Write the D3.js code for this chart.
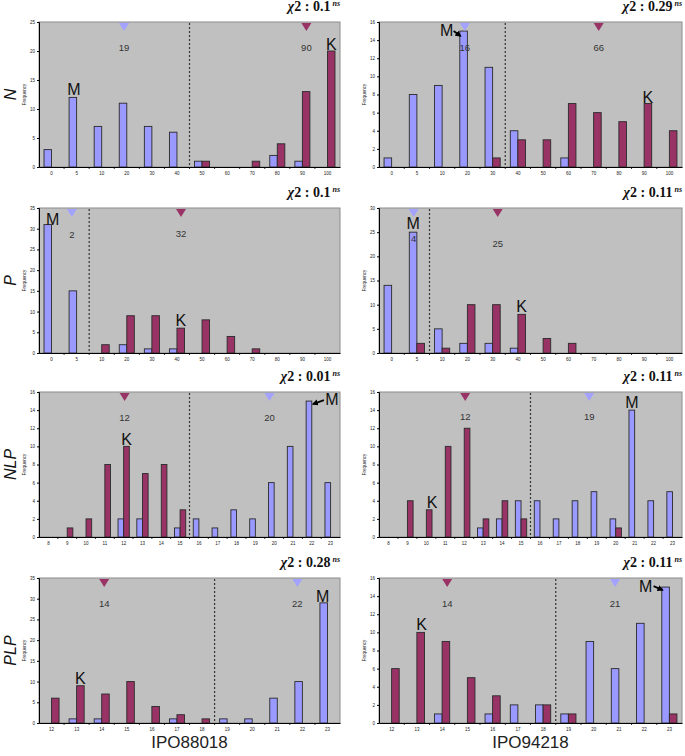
<!DOCTYPE html>
<html><head><meta charset="utf-8">
<script src="https://cdn.jsdelivr.net/npm/d3@7"></script>
<style>body{margin:0;background:#fff;} svg{display:block;}</style>
</head><body>
<script>
// ---------- DATA ----------
const catsN = ["0","5","10","20","30","40","50","60","70","80","90","100"];
const catsNLP = ["8","9","10","11","12","13","14","15","16","17","18","19","20","21","22","23"];
const catsPLP = ["12","13","14","15","16","17","18","19","20","21","22","23"];

const ticks25 = [0,5,10,15,20,25];
const ticks16 = [0,2,4,6,8,10,12,14,16];
const ticks35 = [0,5,10,15,20,25,30,35];
const ticks30 = [0,5,10,15,20,25,30];

// N
const n88Blue = [3,12,7,11,7,6,1,0,0,2,1,0];
const n88Red  = [0,0,0,0,0,0,1,0,1,4,13,20];
const n94Blue = [1,8,9,15,11,4,0,1,0,0,0,0];
const n94Red  = [0,0,0,0,1,3,3,7,6,5,7,4];
// P
const p88Blue = [31,15,0,2,1,1,0,0,0,0,0,0];
const p88Red  = [0,0,2,9,9,6,8,4,1,0,0,0];
const p94Blue = [14,25,5,2,2,1,0,0,0,0,0,0];
const p94Red  = [0,2,1,10,10,8,3,2,0,0,0,0];
// NLP
const nlp88Blue = [0,0,0,0,2,2,0,1,2,1,3,2,6,10,15,6];
const nlp88Red  = [0,1,2,8,10,7,8,3,0,0,0,0,0,0,0,0];
const nlp94Blue = [0,0,0,0,0,1,2,4,4,2,4,5,2,14,4,5];
const nlp94Red  = [0,4,3,10,12,2,4,2,0,0,0,0,1,0,0,0];
// PLP
const plp88Blue = [0,1,1,0,0,1,0,1,1,6,10,29];
const plp88Red  = [6,9,7,10,4,2,1,0,0,0,0,0];
const plp94Blue = [0,0,1,0,1,2,2,1,9,6,11,15];
const plp94Red  = [6,10,9,5,3,0,2,1,0,0,0,1];

const chiValues = ["0.1","0.29","0.1","0.11","0.01","0.11","0.28","0.11"];
const blueMeanLabels = ["19","16","2","4","20","19","22","21"];
const redMeanLabels  = ["90","66","32","25","12","12","14","14"];
// mean marker position, expressed as fractional category index
const blueMeanIdx = [2.89,2.9,0.81,0.87,11.75,10.6,9.8,8.85];
const redMeanIdx  = [10.16,8.2,5.16,4.2,4.05,4.05,2.1,2.2];
const rowNames = ["N","P","NLP","PLP"];
const colNames = ["IPO88018","IPO94218"];

// ---------- LAYOUT ----------
const W = 685, H = 756;
const colX = [[39,340],[379,682]];
const rowY = [[22,167],[208,353],[392,537],[578,723]];
const BLUE = "#9999ff", RED = "#993366";

// arrow: [startDxFromText, startDyFromText, endDxFromBarCenter, endDyFromBarTop]
const panels = [
  {r:0,c:0,cats:catsN,ticks:ticks25,blue:n88Blue,red:n88Red,split:6,
   lb:29,lr:29, ann:[{t:"M",cat:"5",s:"b",dx:1,dy:-2},{t:"K",cat:"100",s:"r",dx:0,dy:-1}]},
  {r:0,c:1,cats:catsN,ticks:ticks16,blue:n94Blue,red:n94Red,split:5,
   lb:29,lr:29, ann:[{t:"M",cat:"20",s:"b",dx:-17,dy:5,arrow:[7,-5,-3,5]},{t:"K",cat:"90",s:"r",dx:0,dy:-1}]},
  {r:1,c:0,cats:catsN,ticks:ticks35,blue:p88Blue,red:p88Red,split:2,
   lb:30,lr:29, ann:[{t:"M",cat:"0",s:"b",dx:5,dy:0},{t:"K",cat:"40",s:"r",dx:0,dy:-2}]},
  {r:1,c:1,cats:catsN,ticks:ticks30,blue:p94Blue,red:p94Red,split:2,
   lb:34,lr:39, ann:[{t:"M",cat:"5",s:"b",dx:0,dy:-3},{t:"K",cat:"40",s:"r",dx:0,dy:-2}]},
  {r:2,c:0,cats:catsNLP,ticks:ticks16,blue:nlp88Blue,red:nlp88Red,split:8,
   lb:29,lr:29, ann:[{t:"K",cat:"12",s:"r",dx:0,dy:-1},{t:"M",cat:"22",s:"b",dx:23,dy:4,arrow:[-8,-5,4,3]}]},
  {r:2,c:1,cats:catsNLP,ticks:ticks16,blue:nlp94Blue,red:nlp94Red,split:8,
   lb:28,lr:28, ann:[{t:"K",cat:"10",s:"r",dx:3,dy:-2},{t:"M",cat:"21",s:"b",dx:0,dy:-2}]},
  {r:3,c:0,cats:catsPLP,ticks:ticks35,blue:plp88Blue,red:plp88Red,split:7,
   lb:29,lr:29, ann:[{t:"K",cat:"13",s:"r",dx:0,dy:-2},{t:"M",cat:"23",s:"b",dx:-1,dy:-1}]},
  {r:3,c:1,cats:catsPLP,ticks:ticks16,blue:plp94Blue,red:plp94Red,split:7,
   lb:29,lr:29, ann:[{t:"K",cat:"13",s:"r",dx:1,dy:-2},{t:"M",cat:"23",s:"b",dx:-20,dy:5,arrow:[8,-6,-3,3]}]}
];

const svg = d3.select("body").append("svg").attr("width",W).attr("height",H);
svg.append("defs").append("marker").attr("id","ah").attr("viewBox","0 0 10 10")
  .attr("refX",8).attr("refY",5).attr("markerWidth",3.5).attr("markerHeight",3.5).attr("orient","auto")
  .attr("markerUnits","strokeWidth")
  .append("path").attr("d","M0,0L10,5L0,10Z").attr("fill","#000");

panels.forEach((p,pi) => {
  const [x0,x1] = colX[p.c];
  const [yt,yb] = rowY[p.r];
  const x = d3.scaleBand().domain(p.cats).range([x0,x1]);
  const y = d3.scaleLinear().domain([0,d3.max(p.ticks)]).range([yb,yt]);
  const bwd = x.bandwidth();
  const bw = bwd*0.3;
  const g = svg.append("g");

  g.append("rect").attr("x",x0).attr("y",yt).attr("width",x1-x0).attr("height",yb-yt)
    .attr("fill","#c0c0c0").attr("stroke","#8c8c8c").attr("stroke-width",1);

  // bars
  const rows = p.cats.map((c,i)=>({c, b:p.blue[i], r:p.red[i]}));
  g.selectAll(".bb").data(rows.filter(d=>d.b>0)).join("rect")
    .attr("x",d=>x(d.c)+bwd/2-bw).attr("width",bw)
    .attr("y",d=>y(d.b)).attr("height",d=>y(0)-y(d.b))
    .attr("fill",BLUE).attr("stroke","#2a2a2a").attr("stroke-width",0.9);
  g.selectAll(".rb").data(rows.filter(d=>d.r>0)).join("rect")
    .attr("x",d=>x(d.c)+bwd/2).attr("width",bw)
    .attr("y",d=>y(d.r)).attr("height",d=>y(0)-y(d.r))
    .attr("fill",RED).attr("stroke","#2a2a2a").attr("stroke-width",0.9);

  // dashed split line
  const sx = x(p.cats[p.split]);
  g.append("line").attr("x1",sx).attr("x2",sx).attr("y1",yt+1).attr("y2",yb)
    .attr("stroke","#333").attr("stroke-width",1.2).attr("stroke-dasharray","2,2");

  // y axis
  const ya = g.append("g").attr("transform",`translate(${x0},0)`)
    .call(d3.axisLeft(y).tickValues(p.ticks).tickSize(2).tickPadding(2));
  ya.select(".domain").attr("stroke","#000");
  ya.selectAll("text").attr("font-size",4.5).attr("font-family","Liberation Sans, Arial").attr("fill","#222");
  // x axis
  const xa = g.append("g").attr("transform",`translate(0,${yb})`)
    .call(d3.axisBottom(x).tickSize(0).tickPadding(5));
  xa.select(".domain").attr("stroke","#000");
  xa.selectAll("text").attr("font-size",4.5).attr("font-family","Liberation Sans, Arial").attr("fill","#222");
  p.cats.forEach((c,i)=>{ if(i>0) g.append("line").attr("x1",x(c)).attr("x2",x(c)).attr("y1",yb).attr("y2",yb+2).attr("stroke","#000").attr("stroke-width",0.8); });

  // Frequency label
  g.append("text").attr("transform",`translate(${x0-13},${(yt+yb)/2}) rotate(-90)`)
    .attr("text-anchor","middle").attr("font-size",4.5).attr("font-family","Liberation Sans, Arial")
    .attr("fill","#222").text("Frequency");

  // mean markers
  const mk = (idx,col,lab,off) => {
    const cx = x0 + (idx+0.5)*bwd;
    g.append("path").attr("d",`M${cx-5},${yt+1}L${cx+5},${yt+1}L${cx},${yt+9}Z`).attr("fill",col);
    g.append("text").attr("x",cx).attr("y",yt+off).attr("text-anchor","middle")
      .attr("font-size",9.5).attr("font-family","Liberation Sans, Arial").attr("fill","#333").text(lab);
  };
  mk(blueMeanIdx[pi],"#a3a3ff",blueMeanLabels[pi],p.lb);
  mk(redMeanIdx[pi],RED,redMeanLabels[pi],p.lr);

  // M / K annotations
  p.ann.forEach(a=>{
    const i = p.cats.indexOf(a.cat);
    const v = a.s==="b" ? p.blue[i] : p.red[i];
    const bx = x(a.cat)+bwd/2 + (a.s==="b" ? -bw/2 : bw/2);
    const by = y(v);
    const tx = bx + a.dx, ty = by + a.dy;
    g.append("text").attr("x",tx).attr("y",ty).attr("text-anchor","middle")
      .attr("font-size",16).attr("font-family","Liberation Sans, Arial").attr("fill","#111").text(a.t);
    if(a.arrow){
      g.append("line").attr("x1",tx+a.arrow[0]).attr("y1",ty+a.arrow[1])
        .attr("x2",bx+a.arrow[2]).attr("y2",by+a.arrow[3])
        .attr("stroke","#000").attr("stroke-width",1.8).attr("marker-end","url(#ah)");
    }
  });

  // chi-square label
  const ct = g.append("text").attr("x",x1).attr("y",yt-11).attr("text-anchor","end")
    .attr("font-family","Liberation Serif, Times New Roman").attr("font-size",14).attr("font-weight","bold").attr("fill","#111");
  ct.append("tspan").attr("font-style","italic").text("χ");
  ct.append("tspan").text("2 : " + chiValues[pi]);
  ct.append("tspan").attr("font-size",8).attr("dy",-5).attr("dx",2).attr("font-style","italic").text("ns");
});

// row labels
rowNames.forEach((n,i)=>{
  const [yt,yb] = rowY[i];
  svg.append("text").attr("transform",`translate(16,${(yt+yb)/2}) rotate(-90)`)
    .attr("text-anchor","middle").attr("font-size",16).attr("font-style","italic")
    .attr("font-family","Liberation Sans, Arial").attr("fill","#111").text(n);
});
// column labels
colNames.forEach((n,i)=>{
  const [x0,x1] = colX[i];
  svg.append("text").attr("x",(x0+x1)/2).attr("y",748).attr("text-anchor","middle")
    .attr("font-size",17).attr("font-family","Liberation Sans, Arial").attr("fill","#222").text(n);
});
</script>
</body></html>
